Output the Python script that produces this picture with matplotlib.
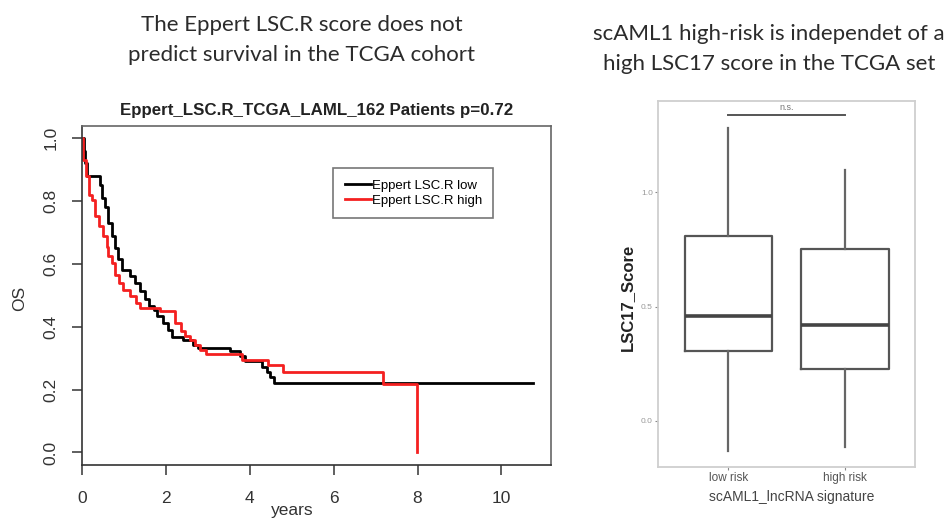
import matplotlib.pyplot as plt

# Kaplan-Meier steps (time in years, survival after the step)
low_t = [0, 0.03, 0.06, 0.10, 0.41, 0.46, 0.54, 0.62, 0.70, 0.78, 0.86, 0.94, 1.14, 1.26,
         1.38, 1.50, 1.58, 1.70, 1.78, 1.93, 2.05, 2.13, 2.41, 2.65, 2.77, 3.52, 3.77, 3.88,
         4.30, 4.40, 4.48, 4.58, 10.76]
low_s = [1.0, 0.96, 0.92, 0.88, 0.85, 0.81, 0.78, 0.73, 0.69, 0.65, 0.615, 0.582, 0.561, 0.54,
         0.513, 0.487, 0.466, 0.454, 0.433, 0.412, 0.39, 0.368, 0.358, 0.342, 0.332, 0.323, 0.306, 0.291,
         0.273, 0.257, 0.241, 0.222, 0.222]
high_t = [0, 0.02, 0.08, 0.15, 0.24, 0.30, 0.40, 0.50, 0.58, 0.62, 0.70, 0.78, 0.88, 0.96,
          1.13, 1.27, 1.38, 1.86, 2.21, 2.35, 2.45, 2.58, 2.70, 2.80, 2.95, 3.80, 4.44, 4.80,
          7.17, 7.98]
high_s = [1.0, 0.93, 0.88, 0.82, 0.805, 0.752, 0.72, 0.688, 0.655, 0.624, 0.603, 0.566, 0.539, 0.518,
          0.497, 0.476, 0.46, 0.449, 0.412, 0.385, 0.37, 0.358, 0.342, 0.326, 0.313, 0.294, 0.278, 0.257,
          0.217, 0.0]
km_labels = ["Eppert LSC.R low", "Eppert LSC.R high"]
x_ticks = [0, 2, 4, 6, 8, 10]
y_ticks = [0.0, 0.2, 0.4, 0.6, 0.8, 1.0]

# boxplot summary of LSC17 score per group
groups = ["low risk", "high risk"]
whislo = [-0.131, -0.112]
q1 = [0.308, 0.227]
med = [0.461, 0.420]
q3 = [0.810, 0.752]
whishi = [1.280, 1.095]
sig_y = 1.338
box_ticks = [0.0, 0.5, 1.0]

plt.rcParams['font.family'] = ['Liberation Sans', 'DejaVu Sans']

fig = plt.figure(figsize=(9.52, 5.18), dpi=100)

# headers
fig.text(302 / 952, 1 - 40 / 518, "The Eppert LSC.R score does not\npredict survival in the TCGA cohort",
         ha='center', va='center', fontsize=16, family='Lato', color='#2b2b2b', linespacing=1.6)
fig.text(769 / 952, 1 - 49 / 518, "scAML1 high-risk is independet of a\nhigh LSC17 score in the TCGA set",
         ha='center', va='center', fontsize=16, family='Lato', color='#2b2b2b', linespacing=1.6)

# ---- left: survival curves
ax1 = fig.add_axes([0.0865, 0.1023, 0.492, 0.655])
ax1.step(low_t, low_s, where='post', color='black', lw=2.0, label=km_labels[0])
ax1.step(high_t, high_s, where='post', color='#f42020', lw=2.0, label=km_labels[1])
ax1.set_xlim(0, 11.18)
ax1.set_ylim(-0.04, 1.04)
ax1.set_xticks(x_ticks)
ax1.set_yticks(y_ticks)
ax1.set_yticklabels([f"{v:.1f}" for v in y_ticks], rotation=90, va='center')
ax1.tick_params(axis='both', length=7, width=1.2, color='#444', labelsize=12.5, labelcolor='#333')
ax1.tick_params(axis='x', pad=12)
ax1.tick_params(axis='y', pad=10)
for sp in ax1.spines.values():
    sp.set_color('#666')
    sp.set_linewidth(1.2)
ax1.spines['bottom'].set_color('#333')
ax1.spines['left'].set_color('#333')
ax1.set_title("Eppert_LSC.R_TCGA_LAML_162 Patients p=0.72", fontsize=12.2, fontweight='bold',
              color='#222', pad=8)
fig.text(292 / 952, 1 - 515 / 518, "years", ha='center', va='baseline', fontsize=12.5, color='#333')
fig.text(20 / 952, 1 - 298 / 518, "OS", rotation=90, ha='center', va='center', fontsize=12.5, color='#333')
leg = ax1.legend(loc='upper left', bbox_to_anchor=(0.536, 0.874), borderaxespad=0, fontsize=9.5,
                 frameon=True, fancybox=False, handlelength=2.0, handletextpad=0.05,
                 labelspacing=0.22, borderpad=0.85)
leg.get_frame().set_edgecolor('#555')
leg.get_frame().set_linewidth(1.2)

# ---- right: boxplot
ax2 = fig.add_axes([0.6915, 0.099, 0.2696, 0.7066])
stats = [dict(label=g, whislo=whislo[i], q1=q1[i], med=med[i], q3=q3[i], whishi=whishi[i], fliers=[])
         for i, g in enumerate(groups)]
ax2.bxp(stats, positions=[1, 2], widths=0.75, showcaps=False,
        boxprops=dict(color='#555', lw=1.6),
        whiskerprops=dict(color='#666', lw=1.6),
        medianprops=dict(color='#444', lw=2.6))
ax2.plot([1, 2], [sig_y, sig_y], color='#555', lw=1.4)
ax2.text(1.5, sig_y + 0.012, "n.s.", ha='center', va='bottom', fontsize=6.5, color='#777')
ax2.set_xlim(0.4, 2.6)
ax2.set_ylim(-0.2, 1.40)
ax2.set_yticks(box_ticks)
ax2.set_yticklabels([f"{v:.1f}" for v in box_ticks])
ax2.tick_params(axis='y', length=2, color='#888', labelsize=6, labelcolor='#999', pad=2)
ax2.tick_params(axis='x', length=2, color='#888', labelsize=8.5, labelcolor='#555', pad=2)
for sp in ax2.spines.values():
    sp.set_color('#cfcfcf')
    sp.set_linewidth(1.3)
fig.text(792 / 952, 1 - 497 / 518, "scAML1_lncRNA signature", ha='center', va='center',
         fontsize=10, color='#444')
fig.text(627 / 952, 1 - 297 / 518, "LSC17_Score", rotation=90, ha='center', va='center',
         fontsize=12, fontweight='bold', color='#222')

fig.savefig("out.png", dpi=100)
